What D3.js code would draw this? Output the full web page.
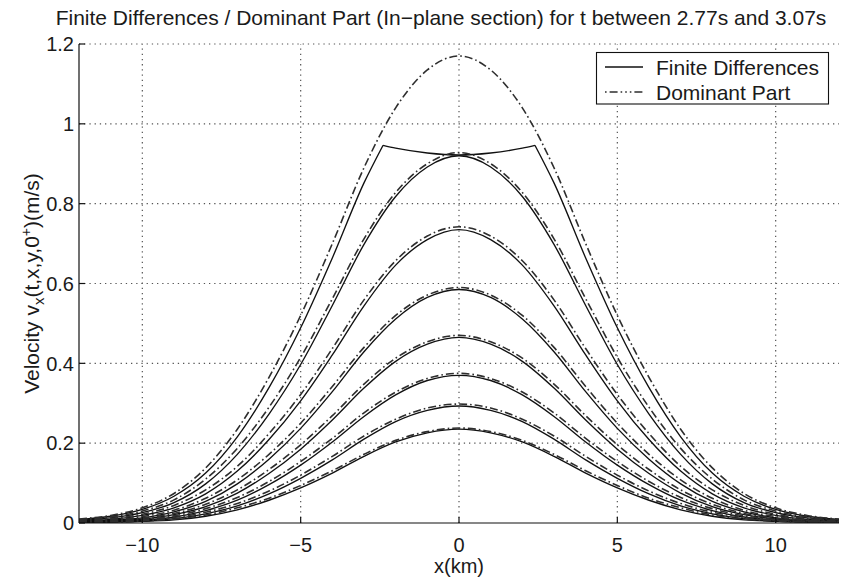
<!DOCTYPE html>
<html><head><meta charset="utf-8">
<script src="https://cdn.jsdelivr.net/npm/d3@7"></script>
<style>
body{margin:0;background:#fff}
svg{display:block}
text{font-family:"Liberation Sans",Arial,Helvetica,sans-serif;fill:#1a1a1a}
</style>
</head><body>
<svg id="c" width="846" height="577"></svg>
<script>
// ---- data ----
const xKm = [-12,-11,-10,-9,-8,-7,-6,-5,-4,-3,-2,-1,0,1,2,3,4,5,6,7,8,9,10,11,12];

// Dominant Part (dash-dot), one array per time step
const dom1 = [0.010,0.019,0.038,0.074,0.138,0.235,0.365,0.520,0.700,0.890,1.040,1.135,1.170,1.135,1.040,0.890,0.700,0.520,0.365,0.235,0.138,0.074,0.038,0.019,0.010];
const dom2 = [0.008,0.015,0.030,0.058,0.110,0.187,0.290,0.415,0.562,0.712,0.828,0.900,0.928,0.900,0.828,0.712,0.562,0.415,0.290,0.187,0.110,0.058,0.030,0.015,0.008];
const dom3 = [0.006,0.011,0.022,0.044,0.083,0.142,0.224,0.322,0.437,0.559,0.657,0.719,0.742,0.719,0.657,0.559,0.437,0.322,0.224,0.142,0.083,0.044,0.022,0.011,0.006];
const dom4 = [0.004,0.008,0.016,0.032,0.062,0.108,0.172,0.250,0.342,0.440,0.520,0.571,0.590,0.571,0.520,0.440,0.342,0.250,0.172,0.108,0.062,0.032,0.016,0.008,0.004];
const dom5 = [0.003,0.006,0.012,0.024,0.047,0.083,0.134,0.196,0.269,0.348,0.413,0.454,0.470,0.454,0.413,0.348,0.269,0.196,0.134,0.083,0.047,0.024,0.012,0.006,0.003];
const dom6 = [0.002,0.004,0.009,0.018,0.036,0.064,0.104,0.154,0.212,0.276,0.328,0.362,0.375,0.362,0.328,0.276,0.212,0.154,0.104,0.064,0.036,0.018,0.009,0.004,0.002];
const dom7 = [0.002,0.003,0.007,0.014,0.027,0.049,0.080,0.120,0.167,0.218,0.260,0.288,0.298,0.288,0.260,0.218,0.167,0.120,0.080,0.049,0.027,0.014,0.007,0.003,0.002];
const dom8 = [0.001,0.002,0.005,0.010,0.020,0.038,0.062,0.094,0.131,0.172,0.207,0.229,0.238,0.229,0.207,0.172,0.131,0.094,0.062,0.038,0.020,0.010,0.005,0.002,0.001];

// Finite Differences (solid); the first one is saturated near the top
const xKmFD1 = [-12,-11,-10,-9,-8,-7,-6,-5,-4,-3,-2.4,-2,-1,0,1,2,2.4,3,4,5,6,7,8,9,10,11,12];
const fd1 = [0.009,0.017,0.034,0.067,0.125,0.216,0.339,0.489,0.664,0.852,0.946,0.939,0.927,0.922,0.927,0.939,0.946,0.852,0.664,0.489,0.339,0.216,0.125,0.067,0.034,0.017,0.009];
const fd1Corners = [-2.4, 2.4];
const fd2 = [0.007,0.013,0.026,0.051,0.098,0.172,0.273,0.397,0.545,0.698,0.818,0.892,0.920,0.892,0.818,0.698,0.545,0.397,0.273,0.172,0.098,0.051,0.026,0.013,0.007];
const fd3 = [0.005,0.009,0.019,0.038,0.073,0.130,0.209,0.306,0.421,0.544,0.646,0.710,0.735,0.710,0.646,0.544,0.421,0.306,0.209,0.130,0.073,0.038,0.019,0.009,0.005];
const fd4 = [0.003,0.007,0.013,0.028,0.054,0.098,0.160,0.237,0.329,0.429,0.511,0.565,0.585,0.565,0.511,0.429,0.329,0.237,0.160,0.098,0.054,0.028,0.013,0.007,0.003];
const fd5 = [0.002,0.005,0.010,0.021,0.041,0.075,0.124,0.185,0.258,0.338,0.405,0.448,0.465,0.448,0.405,0.338,0.258,0.185,0.124,0.075,0.041,0.021,0.010,0.005,0.002];
const fd6 = [0.002,0.004,0.007,0.015,0.031,0.057,0.096,0.145,0.203,0.267,0.321,0.357,0.370,0.357,0.321,0.267,0.203,0.145,0.096,0.057,0.031,0.015,0.007,0.004,0.002];
const fd7 = [0.001,0.003,0.005,0.011,0.023,0.043,0.073,0.112,0.158,0.210,0.254,0.282,0.293,0.282,0.254,0.210,0.158,0.112,0.073,0.043,0.023,0.011,0.005,0.003,0.001];
const fd8 = [0.001,0.002,0.004,0.008,0.017,0.033,0.057,0.088,0.125,0.167,0.203,0.226,0.235,0.226,0.203,0.167,0.125,0.088,0.057,0.033,0.017,0.008,0.004,0.002,0.001];

const xTicks = [-10,-5,0,5,10];
const xTickLabels = ["\u221210","\u22125","0","5","10"];
const yTicks = [0,0.2,0.4,0.6,0.8,1,1.2];
const yTickLabels = ["0","0.2","0.4","0.6","0.8","1","1.2"];
const titleText = "Finite Differences / Dominant Part (In\u2212plane section) for t between 2.77s and 3.07s";
const legendLabels = ["Finite Differences","Dominant Part"];

// ---- drawing ----
const svg = d3.select("#c");
const L = 79, R = 839, T = 44, B = 523;
const x = d3.scaleLinear().domain([-12,12]).range([L,R]);
const y = d3.scaleLinear().domain([0,1.2]).range([B,T]);

svg.append("rect").attr("width",846).attr("height",577).attr("fill","#fff");

// grid
const grid = svg.append("g").attr("stroke","#555").attr("stroke-width",1.2).attr("stroke-dasharray","1.3,3.9");
grid.selectAll("line.v").data(xTicks).join("line")
  .attr("x1",d=>x(d)).attr("x2",d=>x(d)).attr("y1",B).attr("y2",T);
grid.selectAll("line.h").data(yTicks.filter(d=>d>0)).join("line")
  .attr("x1",L).attr("x2",R).attr("y1",d=>y(d)).attr("y2",d=>y(d));

svg.append("defs").append("clipPath").attr("id","clip")
  .append("rect").attr("x",L).attr("y",T-2).attr("width",R-L).attr("height",B-T+2);

const line = d3.line().x(d=>x(d[0])).y(d=>y(d[1])).curve(d3.curveMonotoneX);
const plot = svg.append("g").attr("clip-path","url(#clip)");

const solidStyle = s => s.attr("fill","none").attr("stroke","#111").attr("stroke-width",1.35);
const dashStyle = s => s.attr("fill","none").attr("stroke","#2e2e2e").attr("stroke-width",1.6).attr("stroke-dasharray","8,3,1.6,3");

// FD1 drawn in segments so its corners stay sharp
const fd1Pts = xKmFD1.map((v,i)=>[v,fd1[i]]);
const cIdx = fd1Corners.map(c=>xKmFD1.indexOf(c));
const segs = [fd1Pts.slice(0,cIdx[0]+1), fd1Pts.slice(cIdx[0],cIdx[1]+1), fd1Pts.slice(cIdx[1])];
segs.forEach(sg=>plot.append("path").attr("d",line(sg)).call(solidStyle));

[fd2,fd3,fd4,fd5,fd6,fd7,fd8].forEach(arr=>{
  plot.append("path").attr("d",line(xKm.map((v,i)=>[v,arr[i]]))).call(solidStyle);
});
[dom1,dom2,dom3,dom4,dom5,dom6,dom7,dom8].forEach(arr=>{
  plot.append("path").attr("d",line(xKm.map((v,i)=>[v,arr[i]]))).call(dashStyle);
});

// axes (left + bottom, inward ticks)
const ax = svg.append("g").attr("stroke","#111").attr("stroke-width",1.2);
ax.append("line").attr("x1",L).attr("x2",L).attr("y1",T).attr("y2",B);
ax.append("line").attr("x1",L).attr("x2",R).attr("y1",B).attr("y2",B);
ax.selectAll("line.yt").data(yTicks).join("line")
  .attr("x1",L).attr("x2",L+6).attr("y1",d=>y(d)).attr("y2",d=>y(d));
ax.selectAll("line.xt").data(xTicks).join("line")
  .attr("x1",d=>x(d)).attr("x2",d=>x(d)).attr("y1",B).attr("y2",B-6);

const fsTick = 20, fs = 21;
svg.append("g").selectAll("text").data(yTicks).join("text")
  .attr("x",L-5).attr("y",d=>y(d)).attr("dy","0.36em").attr("text-anchor","end")
  .attr("font-size",fsTick).text((d,i)=>yTickLabels[i]);
svg.append("g").selectAll("text").data(xTicks).join("text")
  .attr("x",d=>x(d)).attr("y",B+29).attr("text-anchor","middle")
  .attr("font-size",fsTick).text((d,i)=>xTickLabels[i]);

svg.append("text").attr("x",x(0)).attr("y",B+50).attr("text-anchor","middle")
  .attr("font-size",20).text("x(km)");

svg.append("text").attr("x",441).attr("y",25).attr("text-anchor","middle")
  .attr("font-size",fs).text(titleText);

const yl = svg.append("text").attr("transform",`translate(39,${(T+B)/2}) rotate(-90)`)
  .attr("text-anchor","middle").attr("font-size",fs);
yl.append("tspan").text("Velocity v");
yl.append("tspan").attr("dy",5).attr("font-size",15).text("x");
yl.append("tspan").attr("dy",-5).text("(t,x,y,0");
yl.append("tspan").attr("dy",-8).attr("font-size",14).text("+");
yl.append("tspan").attr("dy",8).text(")(m/s)");

// legend
const lg = svg.append("g");
lg.append("rect").attr("x",596.5).attr("y",52.5).attr("width",232).attr("height",51.5)
  .attr("fill","#fff").attr("stroke","#111").attr("stroke-width",1.1);
lg.append("line").attr("x1",605).attr("x2",643).attr("y1",67).attr("y2",67).call(solidStyle);
lg.append("line").attr("x1",605).attr("x2",643).attr("y1",92).attr("y2",92).call(dashStyle)
  .attr("stroke-dasharray","1.6,3,8,3,1.6,3,1.6,3");
lg.append("text").attr("x",656).attr("y",75).attr("font-size",fs).text(legendLabels[0]);
lg.append("text").attr("x",656).attr("y",100).attr("font-size",fs).text(legendLabels[1]);
</script>
</body></html>
